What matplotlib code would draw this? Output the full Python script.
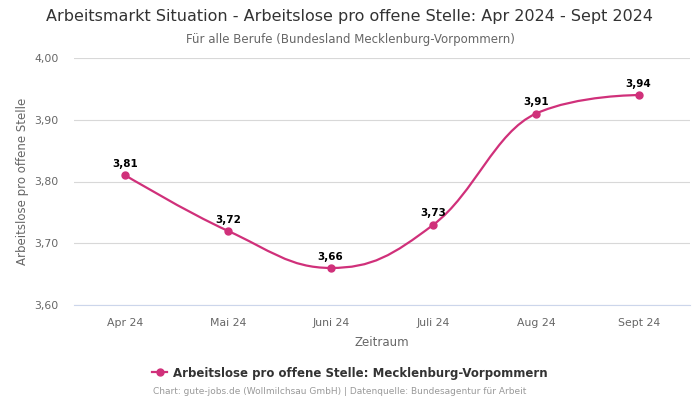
import matplotlib
matplotlib.use("Agg")
import matplotlib.pyplot as plt
from matplotlib.path import Path
from matplotlib.patches import PathPatch
from matplotlib.lines import Line2D
import numpy as np

categories = ["Apr 24", "Mai 24", "Juni 24", "Juli 24", "Aug 24", "Sept 24"]
values = [3.81, 3.72, 3.66, 3.73, 3.91, 3.94]
yticks = [3.60, 3.70, 3.80, 3.90, 4.00]
series_name = "Arbeitslose pro offene Stelle: Mecklenburg-Vorpommern"

color = "#d0307a"
plt.rcParams['font.family'] = ['DejaVu Sans']

fig = plt.figure(figsize=(7, 4), dpi=100)
ax = fig.add_axes([74/700, 1-305/400, 616/700, 247/400])

x = np.arange(len(values), dtype=float)
y = np.array(values, dtype=float)

# Highcharts-like spline
def spline_path(xs, ys, smoothing=1.5):
    n = len(xs)
    denom = smoothing + 1
    left = [None]*n
    right = [None]*n
    for i in range(n):
        px, py = xs[i], ys[i]
        if i == 0 or i == n-1:
            left[i] = (px, py); right[i] = (px, py); continue
        lx, ly = xs[i-1], ys[i-1]
        nx, ny = xs[i+1], ys[i+1]
        lcx = (smoothing*px + lx)/denom; lcy = (smoothing*py + ly)/denom
        rcx = (smoothing*px + nx)/denom; rcy = (smoothing*py + ny)/denom
        if rcx != lcx:
            corr = (rcy - lcy)*(rcx - px)/(rcx - lcx) + py - rcy
            lcy += corr; rcy += corr
            if lcy > ly and lcy > py:
                lcy = max(ly, py); rcy = 2*py - lcy
            elif lcy < ly and lcy < py:
                lcy = min(ly, py); rcy = 2*py - lcy
            if rcy > ny and rcy > py:
                rcy = max(ny, py); lcy = 2*py - rcy
            elif rcy < ny and rcy < py:
                rcy = min(ny, py); lcy = 2*py - rcy
        left[i] = (lcx, lcy); right[i] = (rcx, rcy)
    verts = [(xs[0], ys[0])]
    codes = [Path.MOVETO]
    for i in range(1, n):
        verts += [right[i-1], left[i], (xs[i], ys[i])]
        codes += [Path.CURVE4]*3
    return Path(verts, codes)

path = spline_path(x, y)
ax.add_patch(PathPatch(path, facecolor="none", edgecolor=color, lw=1.6, zorder=3))
ax.plot(x, y, "o", color=color, ms=5, zorder=4)

for xi, yi in zip(x, y):
    ax.annotate(f"{yi:.2f}".replace(".", ","), (xi, yi), xytext=(0, 4.5),
                textcoords="offset points", ha="center", va="bottom",
                fontsize=7.5, fontweight="bold", color="#000000", zorder=5)

ax.set_xlim(-0.5, len(values)-0.5)
ax.set_ylim(3.60, 4.00)
ax.set_yticks(yticks)
ax.set_yticklabels([f"{t:.2f}".replace(".", ",") for t in yticks])
ax.set_xticks(x)
ax.set_xticklabels(categories)
ax.tick_params(axis="both", length=0, labelsize=7.8, colors="#666666")
ax.tick_params(axis="x", pad=9)
ax.tick_params(axis="y", pad=11)
ax.grid(axis="y", color="#d8d8d8", lw=0.8)
ax.set_axisbelow(True)
for s in ["top", "right", "left"]:
    ax.spines[s].set_visible(False)
ax.spines["bottom"].set_color("#ccd6eb")
ax.spines["bottom"].set_linewidth(0.8)

ax.set_xlabel("Zeitraum", fontsize=8.5, color="#666666", labelpad=6)
ax.set_ylabel("Arbeitslose pro offene Stelle", fontsize=8.5, color="#666666", labelpad=4)

fig.text(0.5, 1-17/400, "Arbeitsmarkt Situation - Arbeitslose pro offene Stelle: Apr 2024 - Sept 2024",
         ha="center", va="center", fontsize=11.5, color="#333333")
fig.text(0.5, 1-39/400, "Für alle Berufe (Bundesland Mecklenburg-Vorpommern)",
         ha="center", va="center", fontsize=8.5, color="#666666")

handle = Line2D([0], [0], color=color, lw=1.6, marker="o", ms=5)
fig.legend([handle], [series_name], loc="center", bbox_to_anchor=(0.5, 1-373/400),
           frameon=False, prop={"weight": "bold", "size": 8.5}, labelcolor="#333333",
           handlelength=1.3, handletextpad=0.5)
fig.text(339.5/700, 1-392/400, "Chart: gute-jobs.de (Wollmilchsau GmbH) | Datenquelle: Bundesagentur für Arbeit",
         ha="center", va="center", fontsize=6.5, color="#999999")

fig.savefig("out.png", dpi=100, facecolor="white")
